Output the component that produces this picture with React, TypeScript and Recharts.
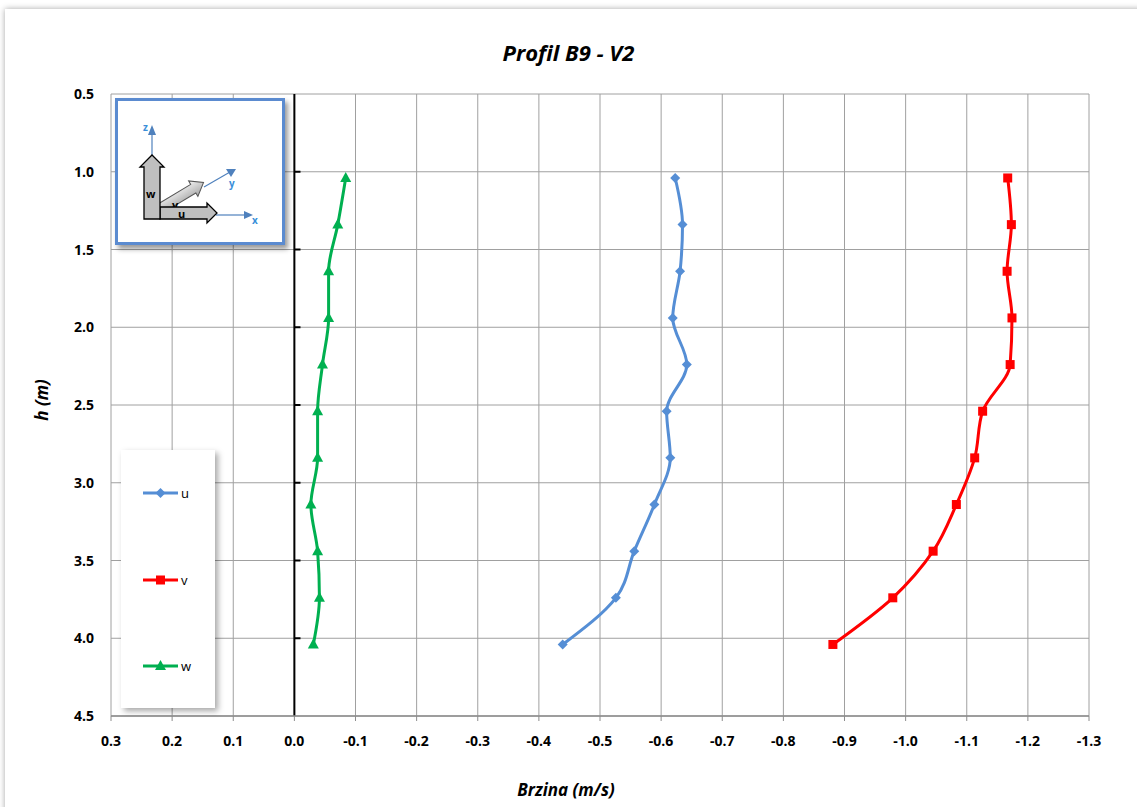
import React from 'react';
import { LineChart, Line, XAxis, YAxis, CartesianGrid, ReferenceLine, Legend } from 'recharts';

const H = [1.04, 1.34, 1.64, 1.94, 2.24, 2.54, 2.84, 3.14, 3.44, 3.74, 4.04];
const U = [-0.623, -0.635, -0.631, -0.619, -0.642, -0.609, -0.615, -0.589, -0.556, -0.526, -0.439];
const V = [-1.167, -1.173, -1.166, -1.174, -1.171, -1.126, -1.113, -1.083, -1.045, -0.979, -0.881];
const W = [-0.084, -0.071, -0.056, -0.056, -0.046, -0.038, -0.038, -0.027, -0.038, -0.041, -0.031];

const X_TICKS = [0.3, 0.2, 0.1, 0.0, -0.1, -0.2, -0.3, -0.4, -0.5, -0.6, -0.7, -0.8, -0.9, -1.0, -1.1, -1.2, -1.3];
const Y_TICKS = [0.5, 1.0, 1.5, 2.0, 2.5, 3.0, 3.5, 4.0, 4.5];
const ZERO_TICKS = [1.0, 1.5, 2.0, 2.5, 3.0, 3.5, 4.0];

const TITLE = 'Profil B9 - V2';
const X_TITLE = 'Brzina (m/s)';
const Y_TITLE = 'h (m)';

const COLORS = { u: '#558ED5', v: '#FF0000', w: '#00B050' };

const data = H.map((h, i) => ({ h, u: U[i], v: V[i], w: W[i] }));

const FONT = '"Open Sans", Lato, sans-serif';

function Marker({ kind, cx, cy, color }: any) {
  if (cx == null || cy == null) return null;
  if (kind === 'u') {
    const s = 5;
    return <polygon points={`${cx},${cy - s} ${cx + s},${cy} ${cx},${cy + s} ${cx - s},${cy}`} fill={color} />;
  }
  if (kind === 'v') {
    return <rect x={cx - 4.5} y={cy - 4.5} width={9} height={9} fill={color} />;
  }
  return <polygon points={`${cx},${cy - 6} ${cx + 5.5},${cy + 4} ${cx - 5.5},${cy + 4}`} fill={color} />;
}

const fmt = (v: number) => (Math.abs(v) < 1e-9 ? '0.0' : v.toFixed(1));

function XTick(props: any) {
  const { x, y, payload } = props;
  return (
    <text x={x} y={y + 23} textAnchor="middle" fontFamily={FONT} fontWeight={700} fontSize={14} fill="#000">
      {fmt(payload.value)}
    </text>
  );
}

function YTick(props: any) {
  const { x, y, payload } = props;
  return (
    <text x={x - 9} y={y + 5} textAnchor="end" fontFamily={FONT} fontWeight={700} fontSize={14} fill="#000">
      {fmt(payload.value)}
    </text>
  );
}

function LegendContent(props: any) {
  const payload = props.payload || [];
  const ys = [43, 130, 216];
  return (
    <svg width={94} height={258} style={{ display: 'block' }}>
      {payload.map((p: any, i: number) => (
        <g key={p.value}>
          <line x1={22} x2={57} y1={ys[i]} y2={ys[i]} stroke={p.color} strokeWidth={3} />
          <Marker kind={p.value} cx={39.5} cy={ys[i]} color={p.color} />
          <text x={60} y={ys[i] + 5} fontFamily={FONT} fontSize={13} fill="#000">{p.value}</text>
        </g>
      ))}
    </svg>
  );
}

function Inset() {
  const blue = '#3A8FD9';
  return (
    <div
      style={{
        position: 'absolute', left: 115, top: 98, width: 170, height: 147,
        boxSizing: 'border-box', border: '3px solid #5B8BD0', background: '#fff',
        boxShadow: '3px 4px 5px rgba(0,0,0,0.4)',
      }}
    >
      <svg width={164} height={141} style={{ position: 'absolute', left: 0, top: 0 }}>
        <defs>
          <linearGradient id="vg" x1="0" y1="0" x2="0" y2="1">
            <stop offset="0" stopColor="#f2f2f2" />
            <stop offset="1" stopColor="#a6a6a6" />
          </linearGradient>
        </defs>
        <line x1={34} y1={55} x2={34} y2={30} stroke="#4F81BD" strokeWidth={1.2} />
        <polygon points="30,34 38,34 34,24" fill="#4F81BD" />
        <text x={25} y={30} fontSize={10} fontWeight={700} fill={blue} fontFamily={FONT}>z</text>
        <line x1={98} y1={114} x2={130} y2={114} stroke="#4F81BD" strokeWidth={1.2} />
        <polygon points="126,110 126,118 135,114" fill="#4F81BD" />
        <text x={134} y={123} fontSize={10} fontWeight={700} fill={blue} fontFamily={FONT}>x</text>
        <line x1={86} y1={86} x2={112} y2={71} stroke="#4F81BD" strokeWidth={1.2} />
        <polygon points="108,68 113,76 118,68" fill="#4F81BD" />
        <text x={111} y={86} fontSize={10} fontWeight={700} fill={blue} fontFamily={FONT}>y</text>
        <g transform="translate(42,110) rotate(-31)">
          <polygon points="0,-7 40,-7 40,-11 52,-2 40,7 40,3 0,3" fill="url(#vg)" stroke="#555" strokeWidth={1} />
        </g>
        <text x={54} y={108} fontSize={11} fontWeight={700} fill="#000" fontFamily={FONT}>v</text>
        <polygon points="42,106 89,106 89,102 99,112 89,122 89,118 42,118" fill="#BFBFBF" stroke="#000" strokeWidth={1.3} />
        <text x={60} y={117} fontSize={11} fontWeight={700} fill="#000" fontFamily={FONT}>u</text>
        <polygon points="26,118 26,66 22,66 34,54 46,66 42,66 42,118" fill="#BFBFBF" stroke="#000" strokeWidth={1.3} />
        <text x={28} y={97} fontSize={11} fontWeight={700} fill="#000" fontFamily={FONT}>w</text>
      </svg>
    </div>
  );
}

export default function App() {
  return (
    <div style={{ position: 'fixed', left: 0, top: 0, width: 1137, height: 807, background: '#fff', overflow: 'hidden' }}>
      <div
        style={{
          position: 'absolute', left: 5, top: 9, width: 1160, height: 830,
          background: '#fff', boxShadow: '0 0 6px rgba(0,0,0,0.35)',
        }}
      />
      <div style={{ position: 'absolute', left: 0, top: 0 }}>
        <LineChart
          width={1137}
          height={807}
          data={data}
          layout="vertical"
          margin={{ top: 94, right: 48, bottom: 51, left: 51 }}
        >
          <CartesianGrid stroke="#A0A0A0" strokeWidth={1} />
          <XAxis
            type="number"
            dataKey="u"
            domain={[-1.3, 0.3]}
            allowDataOverflow
            reversed
            ticks={X_TICKS}
            interval={0}
            height={40}
            tick={<XTick />}
            tickSize={5}
            tickLine={{ stroke: '#8C8C8C' }}
            axisLine={{ stroke: '#8C8C8C', strokeWidth: 1.5 }}
          />
          <YAxis
            type="number"
            dataKey="h"
            domain={[0.5, 4.5]}
            allowDataOverflow
            ticks={Y_TICKS}
            interval={0}
            width={60}
            tick={<YTick />}
            tickLine={false}
            axisLine={false}
          />
          <ReferenceLine x={0} stroke="#000" strokeWidth={2} />
          {ZERO_TICKS.map((t) => (
            <ReferenceLine key={t} segment={[{ x: 0, y: t }, { x: -0.01, y: t }]} stroke="#000" strokeWidth={2} />
          ))}
          <Legend
            layout="vertical"
            align="center"
            verticalAlign="middle"
            content={<LegendContent />}
            wrapperStyle={{
              left: 121, top: 450, width: 94, height: 258, background: '#fff',
              boxShadow: '3px 3px 6px rgba(0,0,0,0.35)',
            }}
          />
          <Line
            dataKey="u"
            name="u"
            type="monotone"
            stroke={COLORS.u}
            strokeWidth={3}
            isAnimationActive={false}
            dot={(p: any) => <Marker key={`u${p.index}`} kind="u" cx={p.cx} cy={p.cy} color={COLORS.u} />}
            legendType="diamond"
          />
          <Line
            dataKey="v"
            name="v"
            type="monotone"
            stroke={COLORS.v}
            strokeWidth={3}
            isAnimationActive={false}
            dot={(p: any) => <Marker key={`v${p.index}`} kind="v" cx={p.cx} cy={p.cy} color={COLORS.v} />}
            legendType="square"
          />
          <Line
            dataKey="w"
            name="w"
            type="monotone"
            stroke={COLORS.w}
            strokeWidth={3}
            isAnimationActive={false}
            dot={(p: any) => <Marker key={`w${p.index}`} kind="w" cx={p.cx} cy={p.cy} color={COLORS.w} />}
            legendType="triangle"
          />
        </LineChart>
      </div>
      <Inset />
      <div
        style={{
          position: 'absolute', left: 0, top: 37, width: 1137, textAlign: 'center',
          fontFamily: FONT, fontWeight: 700, fontStyle: 'italic', fontSize: 22, lineHeight: '30px', color: '#000',
        }}
      >
        {TITLE}
      </div>
      <div
        style={{
          position: 'absolute', left: 466, top: 778, width: 200, textAlign: 'center',
          fontFamily: FONT, fontWeight: 700, fontStyle: 'italic', fontSize: 17, lineHeight: '24px', color: '#000',
        }}
      >
        {X_TITLE}
      </div>
      <div style={{ position: 'absolute', left: 42, top: 400, width: 0, height: 0 }}>
        <div
          style={{
            position: 'absolute', left: -50, top: -12, width: 100, textAlign: 'center',
            transform: 'rotate(-90deg)',
            fontFamily: FONT, fontWeight: 700, fontStyle: 'italic', fontSize: 17, lineHeight: '24px', color: '#000',
          }}
        >
          {Y_TITLE}
        </div>
      </div>
    </div>
  );
}
